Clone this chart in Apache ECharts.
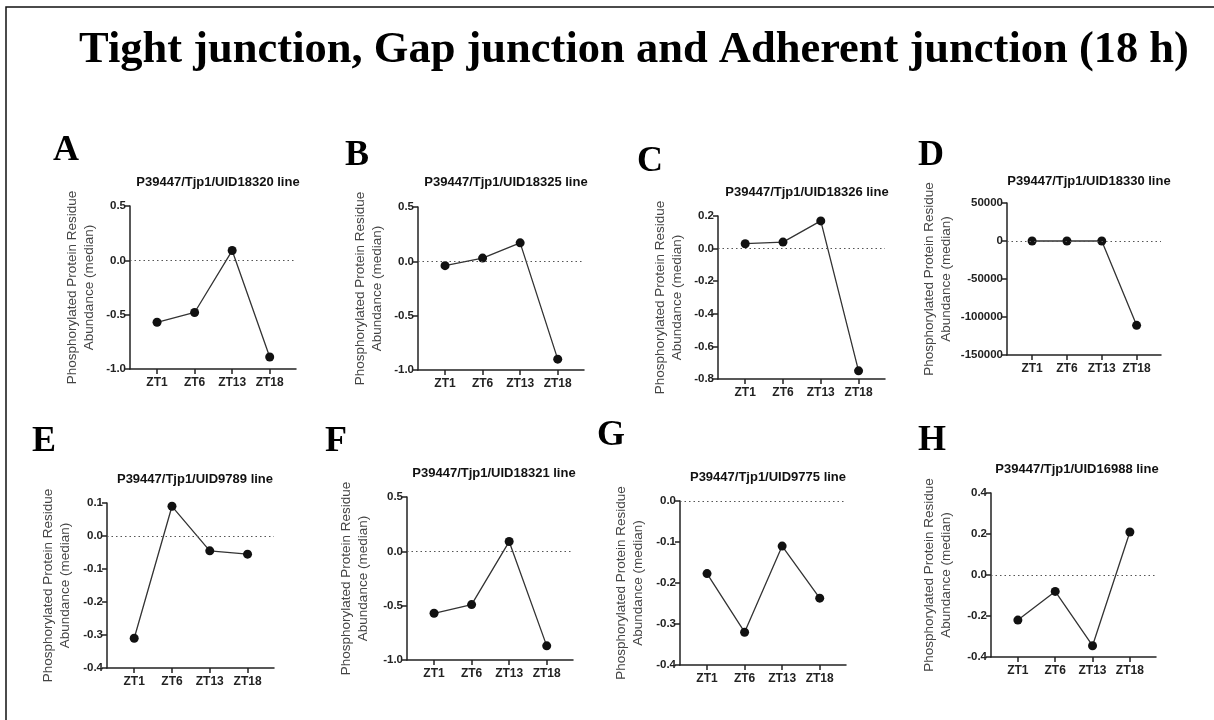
<!DOCTYPE html>
<html>
<head>
<meta charset="utf-8">
<script src="https://cdn.jsdelivr.net/npm/echarts@6.0.0/dist/echarts.min.js"></script>
<style>
html,body{margin:0;padding:0;background:#fff;}
#chart{width:1214px;height:720px;}
</style>
</head>
<body>
<div id="chart"></div>
<script>
// ---- data ----
const mainTitle = 'Tight junction, Gap junction and Adherent junction (18 h)';
const categories = ['ZT1', 'ZT6', 'ZT13', 'ZT18'];
const panelLetters = ['A', 'B', 'C', 'D', 'E', 'F', 'G', 'H'];
const panelTitles = [
  'P39447/Tjp1/UID18320 line',
  'P39447/Tjp1/UID18325 line',
  'P39447/Tjp1/UID18326 line',
  'P39447/Tjp1/UID18330 line',
  'P39447/Tjp1/UID9789 line',
  'P39447/Tjp1/UID18321 line',
  'P39447/Tjp1/UID9775 line',
  'P39447/Tjp1/UID16988 line'
];
const yAxisName = 'Phosphorylated Protein Residue\nAbundance (median)';

const valuesA = [-0.57, -0.48, 0.09, -0.89];
const valuesB = [-0.04, 0.03, 0.17, -0.90];
const valuesC = [0.03, 0.04, 0.17, -0.75];
const valuesD = [0, 0, 0, -111000];
const valuesE = [-0.31, 0.09, -0.045, -0.055];
const valuesF = [-0.57, -0.49, 0.09, -0.87];
const valuesG = [-0.177, -0.32, -0.11, -0.237];
const valuesH = [-0.22, -0.08, -0.345, 0.21];

const yTicksA = [-1.0, -0.5, 0.0, 0.5];
const yTicksB = [-1.0, -0.5, 0.0, 0.5];
const yTicksC = [-0.8, -0.6, -0.4, -0.2, 0.0, 0.2];
const yTicksD = [-150000, -100000, -50000, 0, 50000];
const yTicksE = [-0.4, -0.3, -0.2, -0.1, 0.0, 0.1];
const yTicksF = [-1.0, -0.5, 0.0, 0.5];
const yTicksG = [-0.4, -0.3, -0.2, -0.1, 0.0];
const yTicksH = [-0.4, -0.2, 0.0, 0.2, 0.4];

const allValues = [valuesA, valuesB, valuesC, valuesD, valuesE, valuesF, valuesG, valuesH];
const allTicks = [yTicksA, yTicksB, yTicksC, yTicksD, yTicksE, yTicksF, yTicksG, yTicksH];
const tickDecimals = [1, 1, 1, 0, 1, 1, 1, 1];

// ---- layout (pixels) ----
const grids = [
  {left: 130, top: 206, width: 166, height: 163},
  {left: 418, top: 207, width: 166, height: 163},
  {left: 718, top: 216, width: 167, height: 163},
  {left: 1007, top: 203, width: 154, height: 152},
  {left: 107, top: 503, width: 167, height: 165},
  {left: 407, top: 497, width: 166, height: 163},
  {left: 680, top: 501, width: 166, height: 164},
  {left: 991, top: 493, width: 165, height: 164}
];
const titlePos = [[213, 171], [501, 171], [802, 181], [1084, 170], [190, 468], [489, 462], [763, 466], [1072, 458]];
const letterPos = [[53, 151], [345, 156], [637, 162], [918, 156], [32, 442], [325, 442], [597, 436], [918, 441]];
const nameGaps = [32, 32, 32, 52, 33, 35, 33, 36];

const chart = echarts.init(document.getElementById('chart'));
const option = {
  animation: false,
  backgroundColor: '#ffffff',
  title: [], grid: [], xAxis: [], yAxis: [], series: [],
  graphic: [
    {type: 'rect', shape: {x: 6, y: 7, width: 1230, height: 740}, style: {fill: 'none', stroke: '#111', lineWidth: 1.5}, silent: true},
    {type: 'text', x: 634, y: 50, style: {text: mainTitle, font: 'bold 44.5px "Liberation Serif"', fill: '#000', align: 'center', verticalAlign: 'middle'}}
  ]
};

for (let i = 0; i < 8; i++) {
  const g = grids[i];
  const ticks = allTicks[i];
  const dec = tickDecimals[i];
  option.grid.push({left: g.left, top: g.top, width: g.width, height: g.height, containLabel: false});
  option.title.push({
    text: panelTitles[i], left: titlePos[i][0], top: titlePos[i][1], textAlign: 'center',
    textStyle: {fontFamily: 'Liberation Sans', fontWeight: 'bold', fontSize: 13, color: '#111'}
  });
  option.graphic.push({type: 'text', x: letterPos[i][0], y: letterPos[i][1],
    style: {text: panelLetters[i], font: 'bold 36px "Liberation Serif"', fill: '#000', align: 'left', verticalAlign: 'middle'}});
  option.xAxis.push({
    type: 'value', gridIndex: i, min: 0.28, max: 4.7,
    axisLine: {show: true, onZero: false, lineStyle: {color: '#222', width: 1.5}},
    axisTick: {show: true, customValues: [1, 2, 3, 4], length: 5, lineStyle: {color: '#222', width: 1.5}},
    axisLabel: {customValues: [1, 2, 3, 4], formatter: v => categories[Math.round(v) - 1], margin: 8,
      fontFamily: 'Liberation Sans', fontWeight: 'bold', fontSize: 12, color: '#222'},
    splitLine: {show: false}
  });
  option.yAxis.push({
    type: 'value', gridIndex: i, min: ticks[0], max: ticks[ticks.length - 1], interval: ticks[1] - ticks[0],
    name: yAxisName, nameLocation: 'middle', nameGap: nameGaps[i],
    nameTextStyle: {fontFamily: 'Liberation Sans', fontSize: 13.5, color: '#444', lineHeight: 17},
    axisLine: {show: true, lineStyle: {color: '#222', width: 1.5}},
    axisTick: {show: true, length: 5, lineStyle: {color: '#222', width: 1.5}},
    axisLabel: {formatter: v => v.toFixed(dec), margin: 4,
      fontFamily: 'Liberation Sans', fontWeight: 'bold', fontSize: 11.5, color: '#222'},
    splitLine: {show: false}
  });
  option.series.push({
    type: 'line', xAxisIndex: i, yAxisIndex: i,
    data: allValues[i].map((v, k) => [k + 1, v]),
    symbol: 'circle', symbolSize: 9,
    itemStyle: {color: '#111'},
    lineStyle: {color: '#333', width: 1.3},
    markLine: {
      silent: true, symbol: 'none', label: {show: false},
      lineStyle: {color: '#555', type: [1.5, 3], width: 1},
      data: [{yAxis: 0}]
    },
    z: 3
  });
}
chart.setOption(option);
</script>
</body>
</html>
